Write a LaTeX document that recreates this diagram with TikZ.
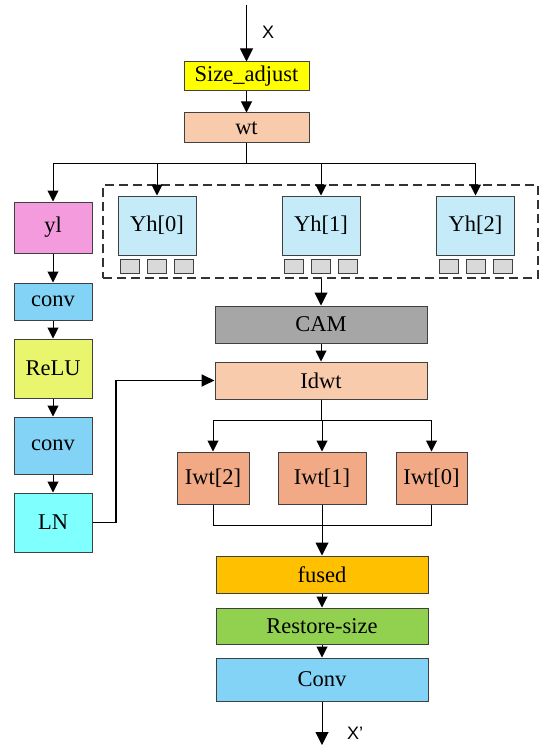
\documentclass[tikz,border=0pt]{standalone}
\usepackage{fontspec}
\setmainfont{Liberation Serif}
\newfontfamily\lsans{Liberation Sans}
\usetikzlibrary{arrows.meta,calc}
\definecolor{bord}{HTML}{404040}
\definecolor{cyel}{HTML}{FFFF00}
\definecolor{cpeach}{HTML}{F8CBAD}
\definecolor{cpink}{HTML}{F39BDD}
\definecolor{cblue}{HTML}{82D3F6}
\definecolor{crelu}{HTML}{EAF56E}
\definecolor{ccyan}{HTML}{80FFFF}
\definecolor{cyh}{HTML}{C5EBF9}
\definecolor{csq}{HTML}{D9D9D9}
\definecolor{ccam}{HTML}{A6A6A6}
\definecolor{ciwt}{HTML}{F2AA86}
\definecolor{cfused}{HTML}{FFC000}
\definecolor{cgreen}{HTML}{92D050}
\tikzset{
  box/.style={draw=bord, line width=1pt, inner sep=0pt, font=\fontsize{22.5}{25}\selectfont},
  sq/.style={draw=bord, line width=0.8pt, fill=csq, minimum width=19pt, minimum height=14pt, inner sep=0pt},
  conn/.style={line width=1pt, black},
  arr/.style={conn, -{Triangle[width=11pt,length=11pt]}},
  bigarr/.style={conn, -{Triangle[width=13pt,length=13pt]}},
  lab/.style={font=\lsans\fontsize{18}{20}\selectfont, inner sep=0pt}
}
\begin{document}
\begin{tikzpicture}[x=1pt,y=-1pt]
\useasboundingbox (0,0) rectangle (550,754);
% top row
\node[box, fill=cyel, minimum width=125pt, minimum height=29pt] (size) at (246.5,76.5) {Size\_adjust};
\node[box, fill=cpeach, minimum width=125pt, minimum height=30pt] (wt) at (246.5,128) {wt};
\coordinate (xin) at (246.5,5);
\node[lab] (xl) at (268,32) {X};
% left column
\node[box, fill=cpink, minimum width=78pt, minimum height=51pt] (yl) at (53,227.5) {yl};
\node[box, fill=cblue, minimum width=78pt, minimum height=37pt] (conva) at (53,301.5) {conv};
\node[box, fill=crelu, minimum width=78pt, minimum height=59pt] (relu) at (53,368.5) {ReLU};
\node[box, fill=cblue, minimum width=78pt, minimum height=57pt] (convb) at (53,445.5) {conv};
\node[box, fill=ccyan, minimum width=78pt, minimum height=59pt] (ln) at (53,522.5) {LN};
% dashed group
\node[draw=black!80, dash pattern=on 9pt off 5pt, line width=1.3pt, minimum width=435pt, minimum height=93pt, inner sep=0pt] (grp) at (320.5,231.5) {};
\foreach \i/\cx in {0/157,1/321,2/475.5}{
  \node[box, fill=cyh, minimum width=78pt, minimum height=59pt] (yh\i) at (\cx,225.5) {Yh[\i]};
  \node[sq] (sqa\i) at (\cx-27,266) {};
  \node[sq] (sqb\i) at (\cx,266) {};
  \node[sq] (sqc\i) at (\cx+27,266) {};
}
% center column
\node[box, fill=ccam, minimum width=212pt, minimum height=37pt] (cam) at (321,324.5) {CAM};
\node[box, fill=cpeach, minimum width=212pt, minimum height=37pt] (idwt) at (321,380.5) {Idwt};
\node[box, fill=ciwt, minimum width=72pt, minimum height=52pt] (iwt2) at (213,478) {Iwt[2]};
\node[box, fill=ciwt, minimum width=88pt, minimum height=52pt] (iwt1) at (322,478) {Iwt[1]};
\node[box, fill=ciwt, minimum width=71pt, minimum height=52pt] (iwt0) at (431.5,478) {Iwt[0]};
\node[box, fill=cfused, minimum width=212pt, minimum height=37pt] (fused) at (322,574.5) {fused};
\node[box, fill=cgreen, minimum width=212pt, minimum height=36pt] (rest) at (322,626) {Restore-size};
\node[box, fill=cblue, minimum width=212pt, minimum height=43pt] (convo) at (322,679.5) {Conv};
\coordinate (xout) at (322,745);
\node[lab] (xol) at (355,733) {X’};
% connectors
\draw[bigarr] (xin) -- (size);
\draw[arr] (size) -- (wt);
\coordinate (br) at (246.5,164);
\draw[conn] (wt) -- (br);
\draw[conn] (yl.north |- br) -- (yh2.north |- br);
\draw[arr] (yl.north |- br) -- (yl);
\draw[arr] (yh0.north |- br) -- (yh0);
\draw[arr] (yh1.north |- br) -- (yh1);
\draw[arr] (yh2.north |- br) -- (yh2);
\draw[arr] (yl) -- (conva);
\draw[arr] (conva) -- (relu);
\draw[arr] (relu) -- (convb);
\draw[arr] (convb) -- (ln);
\draw[bigarr] (grp.south -| cam.north) -- (cam);
\draw[arr] (cam) -- (idwt);
\coordinate (sp) at (321,420);
\draw[conn] (idwt) -- (sp);
\draw[conn] (iwt2.north |- sp) -- (iwt0.north |- sp);
\draw[arr] (iwt2.north |- sp) -- (iwt2);
\draw[arr] (iwt1.north |- sp) -- (iwt1);
\draw[arr] (iwt0.north |- sp) -- (iwt0);
\coordinate (jn) at (322,525);
\draw[conn] (iwt2) -- (iwt2.south |- jn) -- (iwt0.south |- jn) -- (iwt0);
\draw[conn] (iwt1) -- (jn);
\draw[bigarr] (jn) -- (fused);
\draw[arr] (fused) -- (rest);
\draw[arr] (rest) -- (convo);
\draw[bigarr] (convo) -- (xout);
\draw[line width=1.8pt, -{Triangle[width=12pt,length=13pt]}] (ln.east) -- (116,522.5) |- (idwt.west);
\end{tikzpicture}
\end{document}
